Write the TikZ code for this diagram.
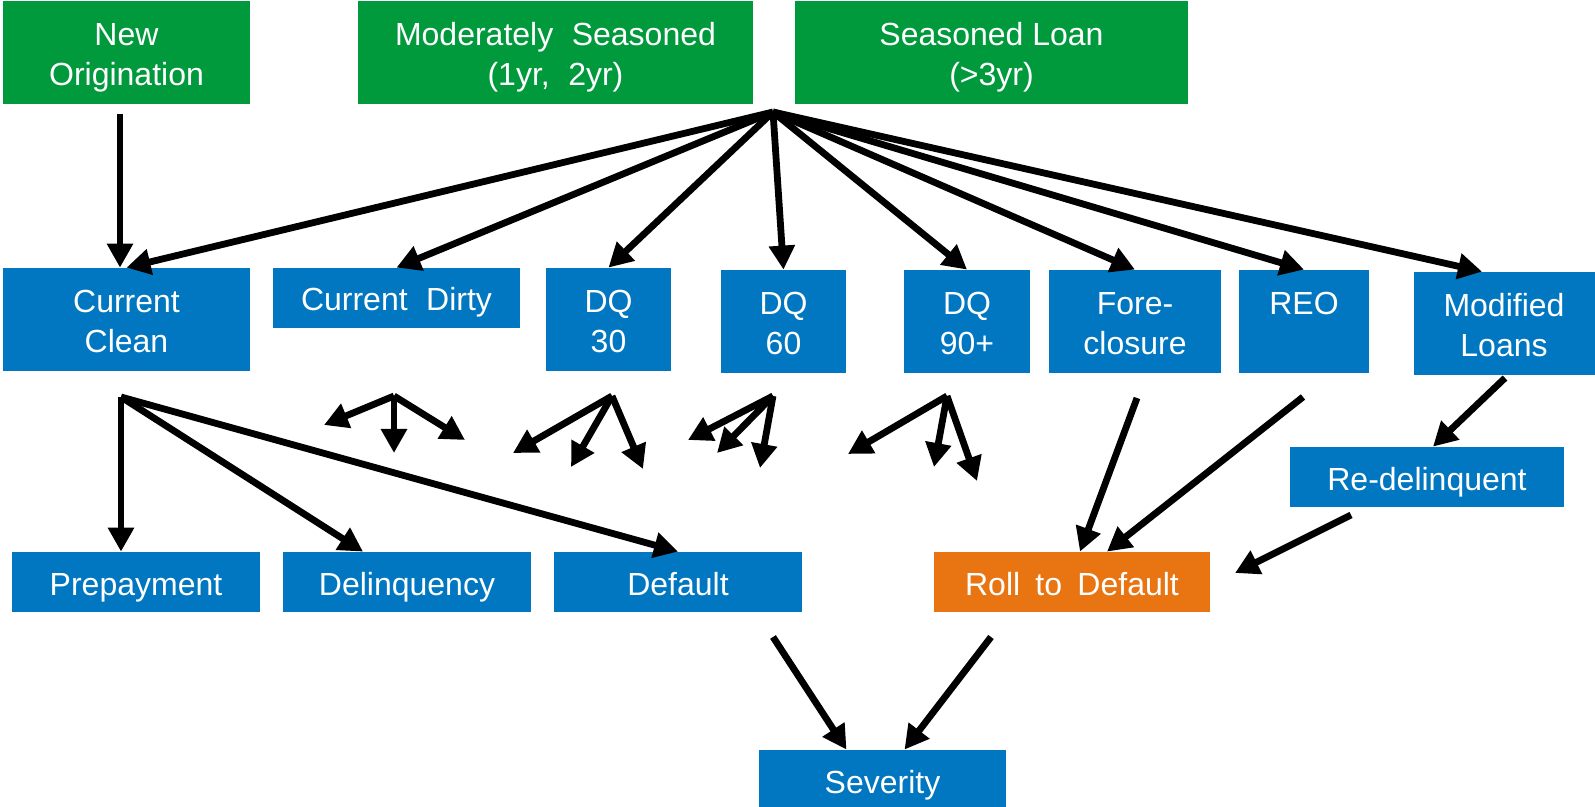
\documentclass[tikz,border=0pt]{standalone}
\usepackage{fontspec}
\setmainfont{Liberation Sans}
\usetikzlibrary{arrows.meta}
\definecolor{boxgreen}{RGB}{0,154,61}
\definecolor{boxblue}{RGB}{0,119,192}
\definecolor{boxorange}{RGB}{232,117,18}
\newcommand\ls{\rule[-3.5pt]{0pt}{20pt}}
\tikzset{
  box/.style={fill=boxblue, text=white, inner sep=0pt, align=center,
    font=\fontsize{16}{20}\selectfont, anchor=center},
  gbox/.style={box, fill=boxgreen},
  obox/.style={box, fill=boxorange},
  arr/.style={-{Triangle[length=12pt,width=12.5pt]}, line width=3.4pt, black},
}
\begin{document}
\begin{tikzpicture}[x=0.5pt,y=-0.5pt]
\useasboundingbox (0,0) rectangle (1595,807);
% top green
\node[gbox, minimum width=123.5pt, minimum height=51.5pt] (neworig) at (126.5,52.5) {\ls New\\\ls Origination};
\node[gbox, minimum width=197.5pt, minimum height=51.5pt] (modseas) at (555.5,52.5) {\ls Moderately\hspace{0.3em} Seasoned\\\ls (1yr,\hspace{0.3em} 2yr)};
\node[gbox, minimum width=196.5pt, minimum height=51.5pt] (seasoned) at (991.5,52.5) {\ls Seasoned Loan\\\ls (\textgreater3yr)};
% middle row
\node[box, minimum width=123.5pt, minimum height=51.5pt] (clean) at (126.5,319.5) {\ls Current\\\ls Clean};
\node[box, minimum width=123.5pt, minimum height=30pt] (dirty) at (396.5,298) {\ls Current\hspace{0.3em} Dirty};
\node[box, minimum width=62.5pt, minimum height=51.5pt] (dq30) at (608.5,319.5) {\ls DQ\\\ls 30};
\node[box, minimum width=62.5pt, minimum height=51.5pt] (dq60) at (783.5,321.5) {\ls DQ\\\ls 60};
\node[box, minimum width=63pt, minimum height=51.5pt] (dq90) at (967,321.5) {\ls DQ\\\ls 90+};
\node[box, minimum width=86pt, minimum height=51.5pt] (fore) at (1135,321.5) {\ls Fore-\\\ls closure};
\node[box, minimum width=65pt, minimum height=51.5pt] (reo) at (1304,321.5) {\ls REO\\\ls};
\node[box, minimum width=90.5pt, minimum height=51.5pt] (mod) at (1504,323.5) {\ls Modified\\\ls Loans};
\node[box, minimum width=137pt, minimum height=30pt] (redel) at (1427,477) {\ls Re-delinquent};
% bottom row
\node[box, minimum width=124pt, minimum height=30pt] (prepay) at (136,582) {\ls Prepayment};
\node[box, minimum width=124pt, minimum height=30pt] (delinq) at (407,582) {\ls Delinquency};
\node[box, minimum width=124pt, minimum height=30pt] (default) at (678,582) {\ls Default};
\node[obox, minimum width=138pt, minimum height=30pt] (roll) at (1072,582) {\ls Roll\hspace{0.2em} to\hspace{0.2em} Default};
\node[box, minimum width=123.5pt, minimum height=30pt] (sev) at (882.5,780) {\ls Severity};
% free coordinates
\coordinate (hub) at (773,112);
\coordinate (noStart) at (120,114);
\coordinate (ccHub) at (121,397);
\coordinate (f1) at (394,396);
\coordinate (f1a) at (324,425);
\coordinate (f1b) at (394,453);
\coordinate (f1c) at (465,440);
\coordinate (f2) at (612,396);
\coordinate (f2a) at (513,453);
\coordinate (f2b) at (571,467);
\coordinate (f2c) at (643,469);
\coordinate (f3) at (773,396);
\coordinate (f3a) at (688,440);
\coordinate (f3b) at (717,453);
\coordinate (f3c) at (760,468);
\coordinate (f4) at (947,396);
\coordinate (f4a) at (848,454);
\coordinate (f4b) at (934,467);
\coordinate (f4c) at (977,481);
\coordinate (foreOut) at (1137,398);
\coordinate (reoOut) at (1303,397);
\coordinate (modOut) at (1505,378);
\coordinate (redelOut) at (1351,515);
\coordinate (redelTip) at (1235,573);
\coordinate (defOut) at (773,637);
\coordinate (rollOut) at (991,637);
% connectors
\draw[arr] (noStart) -- ([xshift=-3.25pt]clean.north);
\draw[arr] (hub) -- (clean.north);
\draw[arr] (hub) -- (dirty.north);
\draw[arr] (hub) -- (dq30.north);
\draw[arr] (hub) -- (dq60.north);
\draw[arr] (hub) -- (dq90.north);
\draw[arr] (hub) -- (fore.north);
\draw[arr] (hub) -- (reo.north);
\draw[arr] (hub) -- ([xshift=-11pt]mod.north);
\draw[arr] (ccHub) -- ([xshift=-7.5pt]prepay.north);
\draw[arr] (ccHub) -- ([xshift=-22pt]delinq.north);
\draw[arr] (ccHub) -- (default.north);
\foreach \s in {f1,f2,f3,f4}{
  \foreach \t in {a,b,c}{
    \draw[arr] (\s) -- (\s\t);
  }
}
\draw[arr] (foreOut) -- ([xshift=4pt]roll.north);
\draw[arr] (reoOut) -- ([xshift=17.5pt]roll.north);
\draw[arr] (modOut) -- ([xshift=3pt]redel.north);
\draw[arr] (redelOut) -- (redelTip);
\draw[arr] (defOut) -- ([xshift=-18pt]sev.north);
\draw[arr] (rollOut) -- ([xshift=11pt]sev.north);
\end{tikzpicture}
\end{document}
